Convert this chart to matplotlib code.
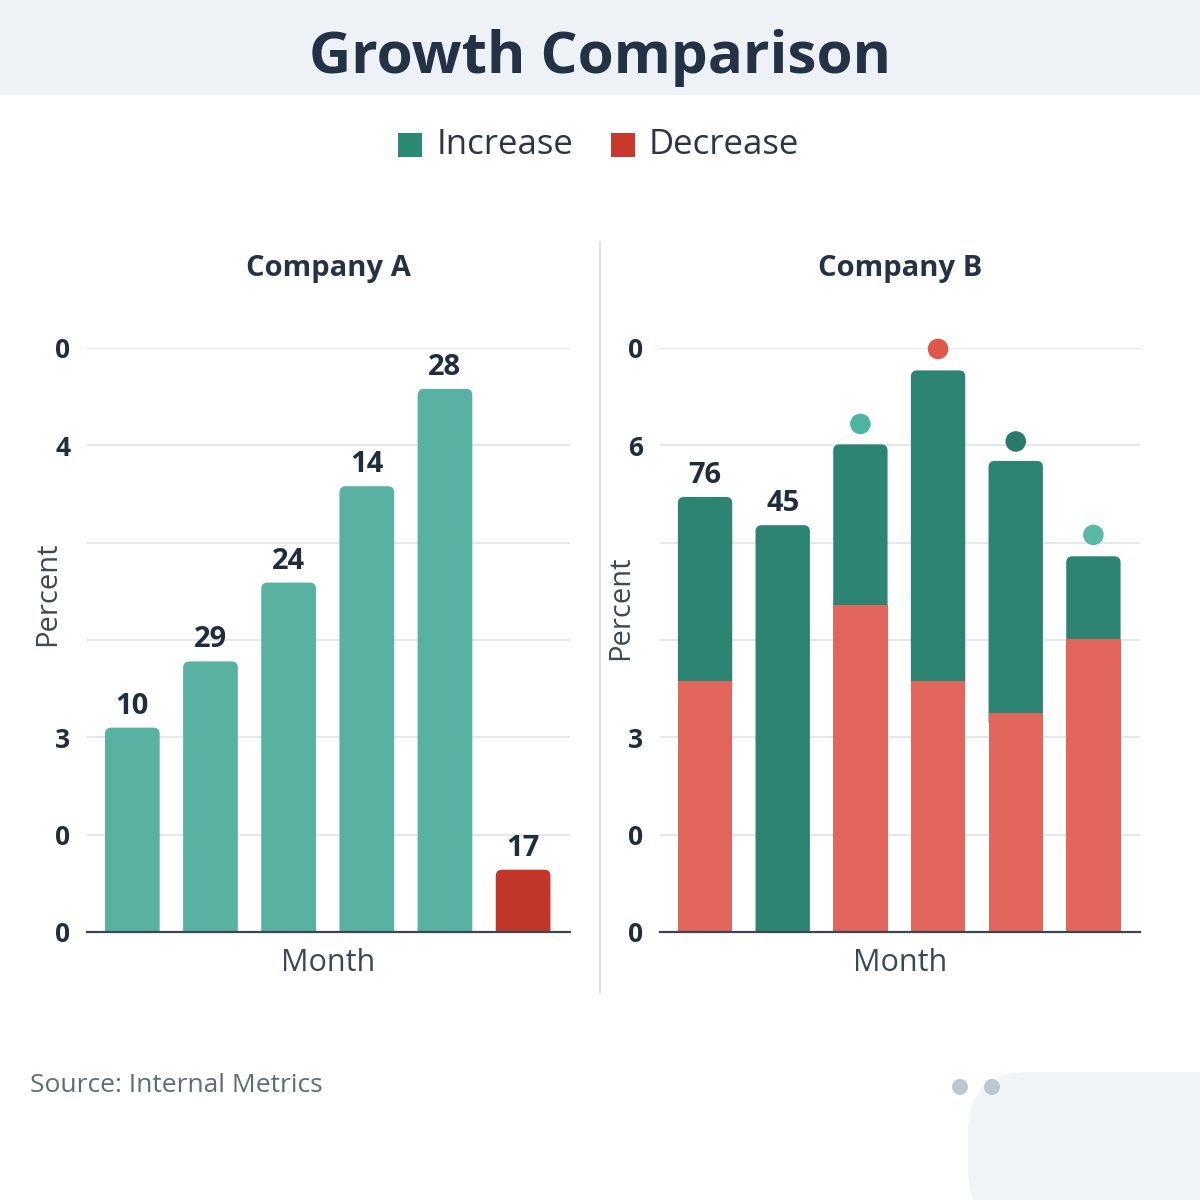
import matplotlib
matplotlib.use("Agg")
import matplotlib.pyplot as plt
from matplotlib.patches import FancyBboxPatch, Rectangle
import numpy as np

plt.rcParams['font.family'] = ['Open Sans', 'DejaVu Sans']

# data (axis units = gridline steps)
months = np.arange(6)
a_values = [2.10, 2.78, 3.59, 4.58, 5.58, 0.64]
a_labels = ["10", "29", "24", "14", "28", "17"]
a_is_increase = [True, True, True, True, True, False]

b_decrease = [2.58, 0.0, 3.36, 2.58, 2.25, 3.01]
b_increase = [1.89, 4.18, 1.65, 3.19, 2.59, 0.85]
b_labels = ["76", "45", "", "", "", ""]
b_dot_months = [2, 3, 4, 5]
b_dot_values = [5.22, 5.99, 5.04, 4.08]
b_dot_colors = ["#4fb3a1", "#e0564b", "#2b7a6c", "#5bb8a6"]

# tick labels bottom to top, as printed on the chart
a_ticklabels = ["0", "0", "3", "", "", "4", "0"]
b_ticklabels = ["0", "0", "3", "", "", "6", "0"]

DARK = "#1f2d3f"
GRID = "#dfe4e8"
A_GREEN, A_RED = "#58b1a1", "#c2372a"
B_GREEN, B_RED = "#2e8473", "#e2665b"

fig = plt.figure(figsize=(12, 12), dpi=100)
fig.patch.set_facecolor("white")

# header band
fig.add_artist(Rectangle((0, 1 - 95/1200), 1, 95/1200, transform=fig.transFigure,
                         facecolor="#eef2f6", edgecolor="none", zorder=0))
fig.text(0.5, 1 - 58/1200, "Growth Comparison", ha="center", va="center",
         fontsize=42, fontweight="bold", color="#243246")

# legend
fig.add_artist(Rectangle((398/1200, 1 - 157/1200), 24/1200, 24/1200, transform=fig.transFigure,
                         facecolor="#2a8a73", edgecolor="none"))
fig.text(437/1200, 1 - 145/1200, "Increase", ha="left", va="center", fontsize=25, color="#2a3648")
fig.add_artist(Rectangle((611/1200, 1 - 157/1200), 24/1200, 24/1200, transform=fig.transFigure,
                         facecolor="#c9392b", edgecolor="none"))
fig.text(649/1200, 1 - 145/1200, "Decrease", ha="left", va="center", fontsize=25, color="#2a3648")

# separator
fig.add_artist(plt.Line2D([0.5, 0.5], [1 - 242/1200, 1 - 992/1200], transform=fig.transFigure,
                          color="#d5dbe0", linewidth=1.2))


def round_tops(ax, bars, covered_by=None):
    # swap the square bar tops for slightly rounded ones
    for p in bars.patches:
        if p.get_height() <= 0:
            continue
        x, y, w, h = p.get_x(), p.get_y(), p.get_width(), p.get_height()
        p.set_visible(False)
        ax.add_patch(FancyBboxPatch((x, y - 0.15), w, h + 0.15,
                                    boxstyle="round,pad=0,rounding_size=0.08",
                                    mutation_aspect=0.8, facecolor=p.get_facecolor(),
                                    edgecolor="none", zorder=2))


def style_axis(ax, ticklabels, title, label_y):
    ax.set_ylim(0, 6)
    ax.set_xlim(-0.58, 5.6)
    ax.set_yticks(range(7))
    ax.set_yticklabels(ticklabels)
    ax.set_xticks([])
    ax.tick_params(axis="y", length=0, pad=12, labelsize=19, labelcolor=DARK)
    for t in ax.get_yticklabels():
        t.set_fontweight("bold")
    ax.grid(axis="y", color=GRID, linewidth=1.2)
    ax.set_axisbelow(True)
    for s in ["top", "right", "left"]:
        ax.spines[s].set_visible(False)
    ax.spines["bottom"].set_color("#3b4656")
    ax.spines["bottom"].set_linewidth(1.6)
    ax.spines["bottom"].set_zorder(4)
    ax.set_title(title, fontsize=21, fontweight="bold", color="#243246", pad=52)
    ax.set_ylabel("Percent", fontsize=21, color="#3a4858")
    ax.yaxis.set_label_coords(-0.052, label_y)
    ax.set_xlabel("Month", fontsize=22, color="#3a4858")
    ax.xaxis.set_label_coords(0.5, -0.028)


# Company A
ax1 = fig.add_axes([87/1200, 268/1200, 483/1200, 584/1200])
colors_a = [A_GREEN if inc else A_RED for inc in a_is_increase]
bars_a = ax1.bar(months, a_values, width=0.70, color=colors_a)
ax1.bar_label(bars_a, labels=a_labels, padding=5, fontsize=21, fontweight="bold", color=DARK)
round_tops(ax1, bars_a)
style_axis(ax1, a_ticklabels, "Company A", 0.58)

# Company B
ax2 = fig.add_axes([660/1200, 268/1200, 480/1200, 584/1200])
bars_b = ax2.bar(months, b_increase, bottom=b_decrease, width=0.70, color=B_GREEN)
ax2.bar_label(bars_b, labels=b_labels, padding=5, fontsize=21, fontweight="bold", color=DARK)
round_tops(ax2, bars_b)
ax2.bar(months, b_decrease, width=0.70, color=B_RED, zorder=3)
ax2.scatter(b_dot_months, b_dot_values, s=190, c=b_dot_colors, zorder=5, clip_on=False)
style_axis(ax2, b_ticklabels, "Company B", 0.555)

# footer
fig.text(30/1200, 1 - 1085/1200, "Source: Internal Metrics", ha="left", va="center",
         fontsize=19, color="#5d6b7a")
for x in [960, 992]:
    fig.add_artist(plt.Circle((x/1200, 1 - 1087/1200), 8/1200, transform=fig.transFigure,
                              facecolor="#bcc7d2", edgecolor="none"))
fig.add_artist(FancyBboxPatch((968/1200, 1 - 1230/1200), 300/1200, 158/1200,
                              boxstyle="round,pad=0,rounding_size=0.05",
                              transform=fig.transFigure, facecolor="#f1f5f9", edgecolor="none", zorder=0))

fig.savefig("out.png", dpi=100)
